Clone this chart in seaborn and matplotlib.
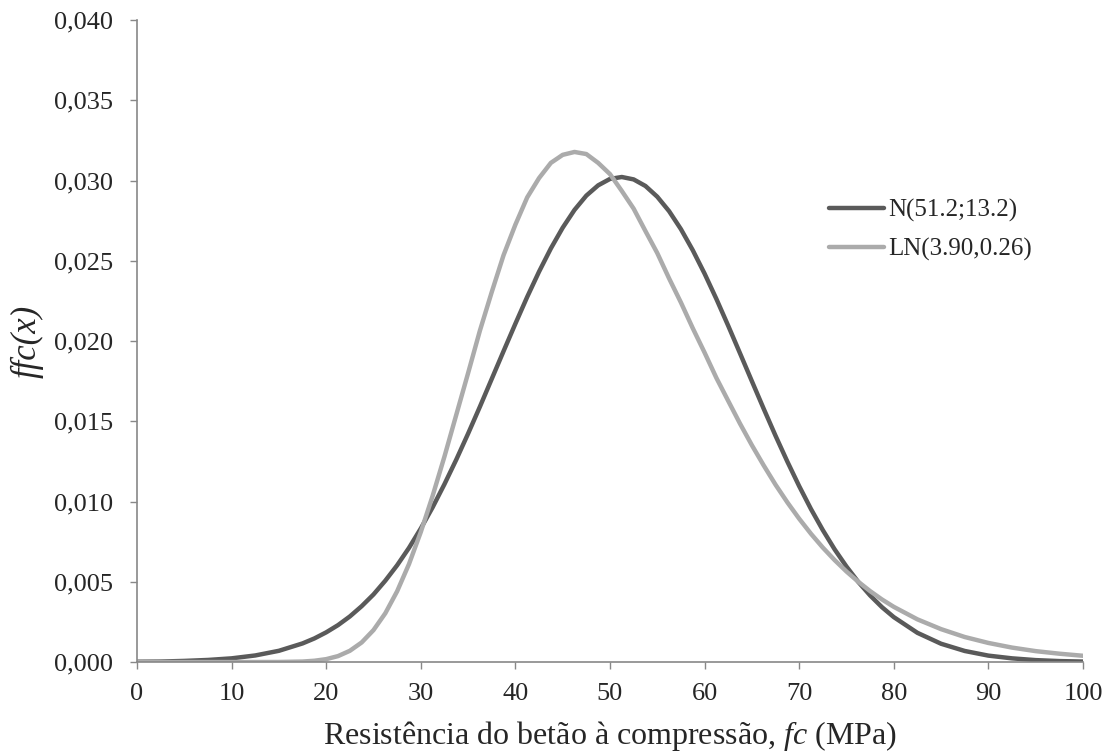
import numpy as np
import pandas as pd
import matplotlib.pyplot as plt
import seaborn as sns

# values
fc = [0, 2.5, 5, 7.5, 10, 12.5, 15, 17.5, 18.75, 20, 21.25, 22.5, 23.75,
      25, 26.25, 27.5, 28.75, 30, 31.25, 32.5, 33.75, 35, 36.25, 37.5,
      38.75, 40, 41.25, 42.5, 43.75, 45, 46.25, 47.5, 48.75, 50, 51.25,
      52.5, 53.75, 55, 56.25, 57.5, 58.75, 60, 61.25, 62.5, 63.75, 65,
      66.25, 67.5, 68.75, 70, 71.25, 72.5, 73.75, 75, 76.25, 77.5, 78.75,
      80, 82.5, 85, 87.5, 90, 92.5, 95, 97.5, 100]
normal_pdf = [0.00002, 0.00003, 0.00007, 0.00013, 0.00023, 0.00041, 0.00070,
              0.00116, 0.00147, 0.00185, 0.00230, 0.00284, 0.00348,
              0.00421, 0.00507, 0.00603, 0.00711, 0.00832, 0.00964,
              0.01108, 0.01261, 0.01423, 0.01591, 0.01764, 0.01937,
              0.02108, 0.02275, 0.02432, 0.02577, 0.02706, 0.02817,
              0.02906, 0.02970, 0.03010, 0.03022, 0.03007, 0.02966,
              0.02899, 0.02809, 0.02697, 0.02566, 0.02420, 0.02262,
              0.02095, 0.01923, 0.01750, 0.01578, 0.01410, 0.01249,
              0.01096, 0.00953, 0.00822, 0.00702, 0.00595, 0.00499,
              0.00415, 0.00342, 0.00280, 0.00182, 0.00114, 0.00069,
              0.00040, 0.00023, 0.00012, 0.00006, 0.00003]
lognormal_pdf = [0.0, 0.0, 0.0, 0.0, 0.0, 0.0, 0.000003, 0.00003, 0.00008,
                 0.00018, 0.00037, 0.00070, 0.00122, 0.00199, 0.00304,
                 0.00441, 0.00610, 0.00810, 0.01035, 0.01280, 0.01540,
                 0.01800, 0.02065, 0.02305, 0.02535, 0.02725, 0.02895,
                 0.03015, 0.03110, 0.03160, 0.03178, 0.03165, 0.03110,
                 0.03040, 0.02935, 0.02825, 0.02685, 0.02548, 0.02390,
                 0.02240, 0.02080, 0.01928, 0.01770, 0.01627, 0.01485,
                 0.01351, 0.01225, 0.01105, 0.00995, 0.00893, 0.00799,
                 0.00713, 0.00635, 0.00564, 0.00500, 0.00442, 0.00390,
                 0.00344, 0.00266, 0.00205, 0.00156, 0.00119, 0.00090,
                 0.00068, 0.00052, 0.00039]
labels = ["N(51.2;13.2)", "LN(3.90,0.26)"]
x_ticks = list(range(0, 101, 10))
y_ticks = [0.0, 0.005, 0.010, 0.015, 0.020, 0.025, 0.030, 0.035, 0.040]

df = pd.concat([
    pd.DataFrame({"fc": fc, "pdf": normal_pdf, "dist": labels[0]}),
    pd.DataFrame({"fc": fc, "pdf": lognormal_pdf, "dist": labels[1]}),
])

sns.set_style("white")
plt.rcParams["font.family"] = ["Liberation Serif", "DejaVu Serif"]
plt.rcParams["mathtext.fontset"] = "custom"
plt.rcParams["mathtext.rm"] = "Liberation Serif"
plt.rcParams["mathtext.it"] = "Liberation Serif:italic"

fig = plt.figure(figsize=(11.13, 7.53), dpi=100)
ax = fig.add_axes([0.1231, 0.1208, 0.8499, 0.8526])
sns.lineplot(data=df, x="fc", y="pdf", hue="dist", ax=ax,
             palette={labels[0]: "#5a5a5a", labels[1]: "#ababab"},
             linewidth=3.2)

ax.set_xlim(0, 100)
ax.set_ylim(0, 0.040)
ax.set_xticks(x_ticks)
ax.set_yticks(y_ticks)
ax.set_yticklabels([f"{v:.3f}".replace(".", ",") for v in y_ticks])
ax.tick_params(axis="both", labelsize=19, length=5, width=1,
               color="#888888", direction="out",
               bottom=True, left=True)
ax.tick_params(axis="x", pad=10)
ax.tick_params(axis="y", pad=12)
for side in ["top", "right"]:
    ax.spines[side].set_visible(False)
for side in ["left", "bottom"]:
    ax.spines[side].set_color("#888888")
    ax.spines[side].set_linewidth(1.2)

ax.set_xlabel("Resistência do betão à compressão, $\\it{fc}$ (MPa)",
              fontsize=23, labelpad=10)
ax.set_ylabel("ffc(x)", fontsize=25, fontstyle="italic", labelpad=8)

ax.legend(frameon=False, fontsize=18, handlelength=2.2, handletextpad=0.15,
          labelspacing=0.65, loc="upper left", bbox_to_anchor=(0.725, 0.766),
          bbox_transform=fig.transFigure)

fig.savefig("out.png", dpi=100)
